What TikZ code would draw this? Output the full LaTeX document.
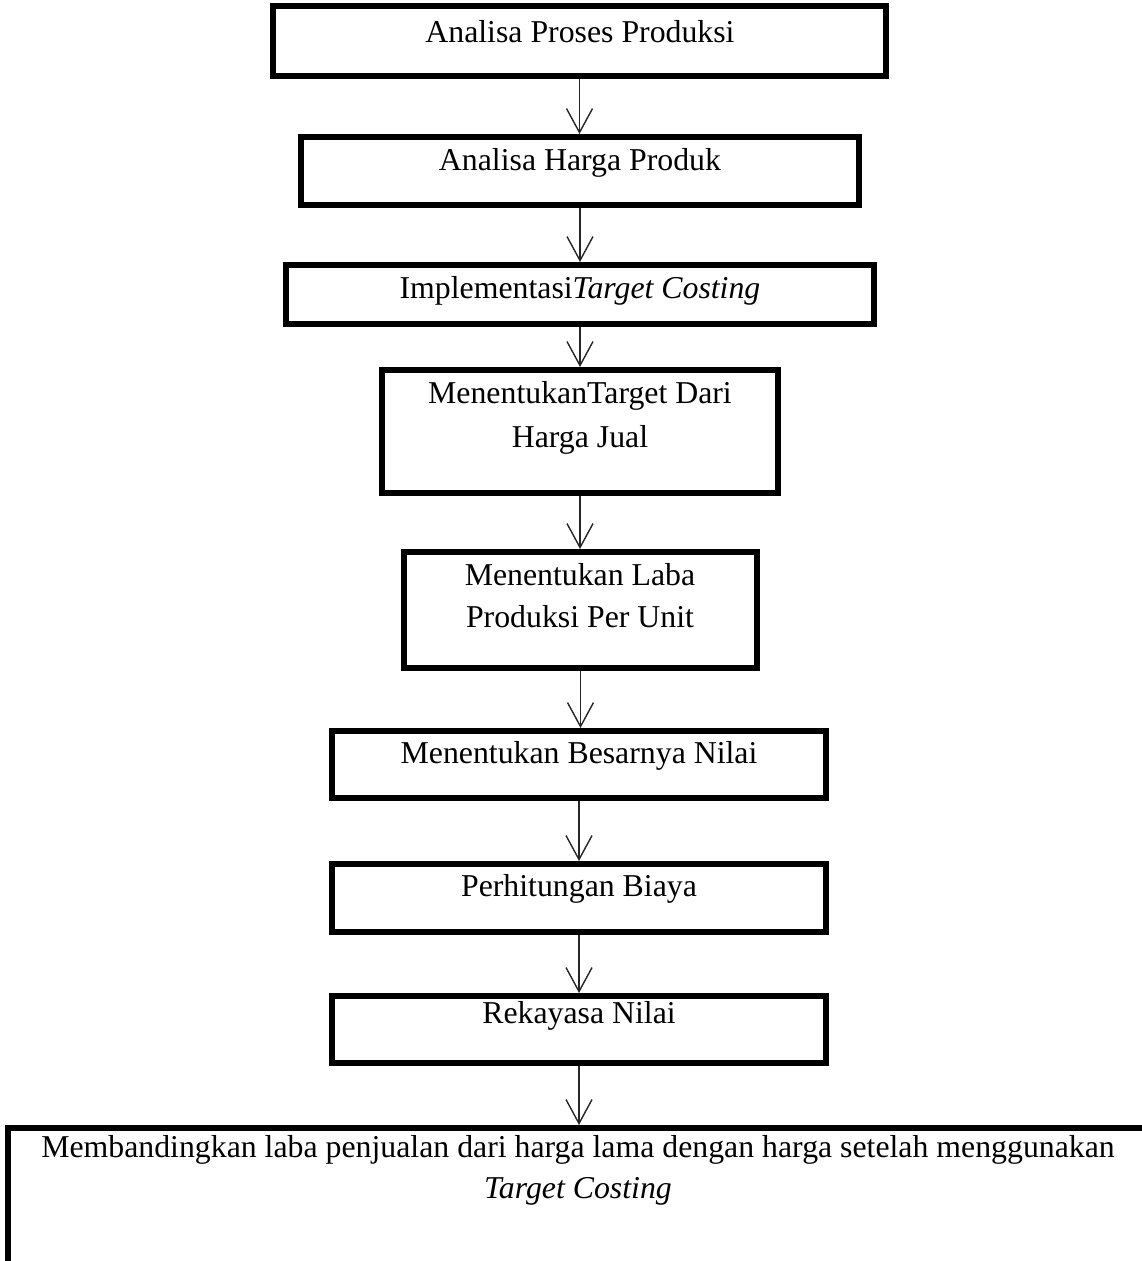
\documentclass[tikz,border=0pt]{standalone}
\usepackage{fontspec}
\setmainfont{Liberation Serif}
\usetikzlibrary{arrows.meta}
\tikzset{box/.style = {draw, line width = 6pt, inner sep = 0}}
\tikzset{txt/.style = {anchor = base, inner sep = 0, font = \fontsize{31.8}{42}\selectfont}}
\tikzset{flow/.style = {line width = 1.4pt, draw = black!85, -{Straight Barb[length = 24pt, width = 26pt]}}}

\begin{document}
\begin{tikzpicture}[x = 1pt, y = -1pt]
      \useasboundingbox (0, 0) rectangle (1142, 1261);
      \clip (0, 0) rectangle (1142, 1261);

      \node [box, minimum width = 613pt, minimum height = 70pt] (proses) at (579.5, 41) {};
      \node [txt] (tproses) at (580, 42) {Analisa Proses Produksi};

      \node [box, minimum width = 558pt, minimum height = 68pt] (harga) at (580, 171) {};
      \node [txt] (tharga) at (580, 170) {Analisa Harga Produk};

      \node [box, minimum width = 588pt, minimum height = 59pt] (implementasi) at (580, 294.5) {};
      \node [txt] (timplementasi) at (580, 298) {Implementasi\textit{Target Costing}};

      \node [box, minimum width = 396pt, minimum height = 123pt] (hargajual) at (580, 431.5) {};
      \node [txt] (thargajuala) at (580, 403) {MenentukanTarget Dari};
      \node [txt] (thargajualb) at (580, 447) {Harga Jual};

      \node [box, minimum width = 353pt, minimum height = 116pt] (laba) at (580.5, 610) {};
      \node [txt] (tlabaa) at (580, 585) {Menentukan Laba};
      \node [txt] (tlabab) at (580, 627) {Produksi Per Unit};

      \node [box, minimum width = 494pt, minimum height = 67pt] (nilai) at (579, 764.5) {};
      \node [txt] (tnilai) at (579, 763) {Menentukan Besarnya Nilai};

      \node [box, minimum width = 494pt, minimum height = 68pt] (biaya) at (579, 898) {};
      \node [txt] (tbiaya) at (579, 896) {Perhitungan Biaya};

      \node [box, minimum width = 494pt, minimum height = 67pt] (rekayasa) at (579, 1029.5) {};
      \node [txt] (trekayasa) at (579, 1023) {Rekayasa Nilai};

      \node [box, anchor = north west, minimum width = 1160pt, minimum height = 200pt] (banding) at (5, 1125) {};
      \node [txt] (tbandinga) at (578, 1157) {Membandingkan laba penjualan dari harga lama dengan harga setelah menggunakan};
      \node [txt] (tbandingb) at (578, 1198) {\textit{Target Costing}};

      \draw [flow] (proses.south) -- (proses.south |- harga.north);
      \draw [flow] (harga.south) -- (harga.south |- implementasi.north);
      \draw [flow] (implementasi.south) -- (implementasi.south |- hargajual.north);
      \draw [flow] (hargajual.south) -- (hargajual.south |- laba.north);
      \draw [flow] (laba.south) -- (laba.south |- nilai.north);
      \draw [flow] (nilai.south) -- (nilai.south |- biaya.north);
      \draw [flow] (biaya.south) -- (biaya.south |- rekayasa.north);
      \draw [flow] (rekayasa.south) -- (rekayasa.south |- banding.north);
    \end{tikzpicture}
\end{document}
